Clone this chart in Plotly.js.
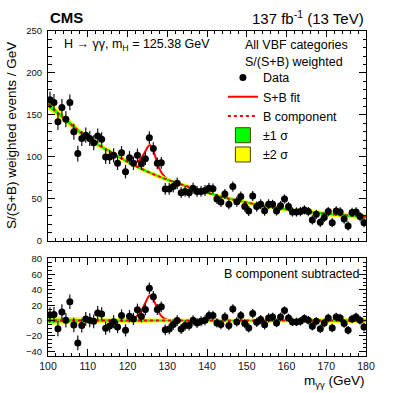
<!DOCTYPE html>
<html>
<head>
<meta charset="utf-8">
<script src="https://cdn.plot.ly/plotly-3.0.1.min.js"></script>
<style>html,body{margin:0;padding:0;background:#fff;}#chart{width:407px;height:393px;}</style>
</head>
<body>
<div id="chart"></div>
<script>
// ---- Data ----
// Bin centres 100.5 ... 179.5 GeV (1 GeV bins)
const massBins = [];
for (let i = 0; i < 80; i++) massBins.push(100.5 + i);

// S/(S+B) weighted events / GeV
const dataY = [
  168, 165, 142, 159, 145, 165, 130, 104, 122, 126,
  122, 117, 125, 121, 100, 100, 102, 92.5, 105, 82.5,
  99, 92.5, 102, 92, 98, 123, 110, 92.5, 93, 62,
  62, 64.7, 68.7, 57.5, 59, 57.5, 62.7, 59, 59, 60,
  62.7, 62.3, 50, 46.4, 56, 43.6, 64.7, 46.8, 52.8, 40.9,
  35.7, 53.6, 40.9, 43.6, 36, 43.6, 43.6, 35.7, 42, 50,
  40.9, 34.5, 34.5, 35, 36.9, 35, 25, 31.7, 22.2, 28,
  35, 21.8, 35.7, 34.5, 26, 17.9, 34, 34.5, 29, 21.8
];
// Data minus B component
const residY = [
  7.4, 7.8, -10.5, 11.3, 0.4, 24.4, -5.7, -29, -6.5, 2.2,
  0.4, -1, 10, 8.7, -10, -7, -1.4, -8.3, 6.5, -12.6,
  5.7, 2.2, 14, 5.2, 14.4, 42, 31, 14.4, 17.9, -12,
  -10.9, -5.2, 0, -10.9, -6.5, -6.5, 0.4, -3, -1, 0.4,
  6.5, 6.5, -3, -5.2, 4.8, -6.5, 15.2, -1.7, 6.5, -3.9,
  -9.6, 9.1, -2.2, 1.3, -5.5, 3.5, 4.8, -3, 4.8, 13,
  3.5, -1.7, -1.7, -1, 2.6, 0.4, -7.4, -1, -10.5, -3,
  3.5, -9.6, 4.8, 3.5, -3.9, -12.6, 2.2, 4.8, 0.4, -8.3
];
// Statistical uncertainty on each bin
const dataErr = [
  10, 10, 10, 10, 9.5, 9.5, 9.5, 9.5, 9, 9,
  9, 9, 9, 8.5, 8.5, 8.5, 8.5, 8, 8, 8,
  8, 8, 8, 7.5, 7.5, 7.5, 7.5, 7, 7, 7,
  7, 7, 7, 6.5, 6.5, 6.5, 6.5, 6.5, 6.5, 6.5,
  6.5, 6, 6, 6, 6, 6, 6, 6, 6, 6,
  6, 6, 6, 6, 6, 6, 5.5, 5.5, 5.5, 5.5,
  5.5, 5.5, 5.5, 5.5, 5.5, 5.5, 5.5, 5.5, 5.5, 5.5,
  5.5, 5.5, 5.5, 5.5, 5.5, 5.5, 5.5, 5.5, 5.5, 5.5
];

// Fit curves sampled on a mass grid
const fitX = [100, 105, 110, 115, 118, 119, 120, 121, 122, 123, 124, 125, 125.5, 126, 127, 128, 129, 130, 131, 132, 135, 140, 145, 150, 155, 160, 165, 170, 175, 180];
const bkgY = [162.5, 142, 122.5, 108, 99.5, 97, 94.3, 91.8, 89.3, 87, 84.8, 82.6, 81.6, 80.5, 78.5, 76.6, 74.8, 73, 71.3, 69.7, 65, 57.5, 51, 45.8, 41.2, 37.6, 34.8, 32.3, 30.5, 29];
const sigY = [0, 0, 0, 0, 0, 0.2, 0.6, 1.6, 4, 9, 18, 28.5, 32.5, 32, 22, 9.5, 3.5, 1.2, 0.4, 0.1, 0, 0, 0, 0, 0, 0, 0, 0, 0, 0];
const err1s = [2.8, 2.3, 1.9, 1.6, 1.5, 1.5, 1.45, 1.45, 1.4, 1.4, 1.35, 1.35, 1.35, 1.3, 1.3, 1.3, 1.25, 1.25, 1.25, 1.2, 1.2, 1.2, 1.2, 1.2, 1.25, 1.3, 1.4, 1.5, 1.6, 1.75];
const err2s = [5.6, 4.6, 3.8, 3.2, 3.0, 3.0, 2.9, 2.9, 2.8, 2.8, 2.7, 2.7, 2.7, 2.6, 2.6, 2.6, 2.5, 2.5, 2.5, 2.4, 2.4, 2.4, 2.4, 2.4, 2.5, 2.6, 2.8, 3.0, 3.2, 3.5];

// ---- Derived curves ----
const sbY = bkgY.map((b, i) => b + sigY[i]);
const zeroY = bkgY.map(b => b - b);
const up = (base, e) => base.map((b, i) => b + e[i]);
const dn = (base, e) => base.map((b, i) => b - e[i]);

const FONT = '"Liberation Sans", Arial, Helvetica, sans-serif';
const RED = '#ff0000', GREEN = '#00ff00', YELLOW = '#ffff00';

function bandTraces(base, xa, ya) {
  const common = {x: fitX, xaxis: xa, yaxis: ya, mode: 'lines', hoverinfo: 'skip', line: {width: 0, shape: 'spline'}, showlegend: false};
  return [
    Object.assign({}, common, {y: dn(base, err2s)}),
    Object.assign({}, common, {y: up(base, err2s), fill: 'tonexty', fillcolor: YELLOW}),
    Object.assign({}, common, {y: dn(base, err1s)}),
    Object.assign({}, common, {y: up(base, err1s), fill: 'tonexty', fillcolor: GREEN})
  ];
}

const traces = [];
// Top panel
traces.push({x: fitX, y: sbY, xaxis: 'x', yaxis: 'y', mode: 'lines', name: 'S+B fit', legendrank: 2,
  line: {color: RED, width: 2, shape: 'spline', smoothing: 0.8}});
traces.push(...bandTraces(bkgY, 'x', 'y'));
traces.push({x: fitX, y: bkgY, xaxis: 'x', yaxis: 'y', mode: 'lines', name: 'B component', legendrank: 3,
  line: {color: RED, width: 2, dash: 'dot', shape: 'spline'}});
traces.push({x: massBins, y: dataY, xaxis: 'x', yaxis: 'y', mode: 'markers', name: 'Data', legendrank: 1,
  marker: {color: 'black', size: 7},
  error_y: {type: 'data', array: dataErr, visible: true, width: 0, thickness: 1.2, color: '#111'}});
// Legend-only boxes for the uncertainty bands
traces.push({x: [null], y: [null], xaxis: 'x', yaxis: 'y', mode: 'markers', name: '±1 σ', legendrank: 4,
  marker: {symbol: 'square', size: 15, color: GREEN, line: {color: '#444400', width: 1}}});
traces.push({x: [null], y: [null], xaxis: 'x', yaxis: 'y', mode: 'markers', name: '±2 σ', legendrank: 5,
  marker: {symbol: 'square', size: 15, color: YELLOW, line: {color: '#444400', width: 1}}});

// Bottom panel
traces.push({x: fitX, y: sigY, xaxis: 'x2', yaxis: 'y2', mode: 'lines', showlegend: false,
  line: {color: RED, width: 2, shape: 'spline', smoothing: 0.8}});
traces.push(...bandTraces(zeroY, 'x2', 'y2'));
traces.push({x: fitX, y: zeroY, xaxis: 'x2', yaxis: 'y2', mode: 'lines', showlegend: false,
  line: {color: RED, width: 2, dash: 'dot'}});
traces.push({x: massBins, y: residY, xaxis: 'x2', yaxis: 'y2', mode: 'markers', showlegend: false,
  marker: {color: 'black', size: 7},
  error_y: {type: 'data', array: dataErr, visible: true, width: 0, thickness: 1.2, color: '#111'}});

const axisCommon = {showline: true, linecolor: 'black', linewidth: 1, mirror: 'allticks',
  ticks: 'inside', tickcolor: 'black', showgrid: false, zeroline: false,
  tickfont: {family: FONT, size: 9.5, color: '#111'}};

const layout = {
  width: 407, height: 393,
  margin: {l: 48, r: 41, t: 31, b: 37},
  paper_bgcolor: 'white', plot_bgcolor: 'white',
  font: {family: FONT, color: 'black'},
  showlegend: true,
  legend: {x: 0.55, y: 0.902, xanchor: 'left', yanchor: 'top', bgcolor: 'rgba(0,0,0,0)', traceorder: 'normal',
    font: {family: FONT, size: 12.5, color: 'black'}, itemwidth: 30, itemsizing: 'trace', tracegroupgap: 0},
  xaxis: Object.assign({}, axisCommon, {domain: [0, 1], anchor: 'y', range: [100, 180], dtick: 10, tick0: 100,
    ticklen: 6, showticklabels: false, minor: {ticks: 'inside', dtick: 2, ticklen: 3, tickcolor: 'black'}}),
  yaxis: Object.assign({}, axisCommon, {domain: [0.354, 1], anchor: 'x', range: [0, 250], dtick: 50,
    ticklen: 7, ticklabelstandoff: 3, minor: {ticks: 'inside', dtick: 10, ticklen: 3.5, tickcolor: 'black'}}),
  xaxis2: Object.assign({}, axisCommon, {domain: [0, 1], anchor: 'y2', matches: 'x', range: [100, 180], dtick: 10, tick0: 100,
    ticklen: 7, tickfont: {family: FONT, size: 10.5, color: '#111'},
    minor: {ticks: 'inside', dtick: 2, ticklen: 3.5, tickcolor: 'black'}}),
  yaxis2: Object.assign({}, axisCommon, {domain: [0, 0.3015], anchor: 'x2', range: [-46, 81.3], dtick: 20, tick0: 0,
    ticklen: 7, ticklabelstandoff: 3, minor: {ticks: 'inside', dtick: 5, ticklen: 3.5, tickcolor: 'black'}}),
  annotations: [
    {text: '<b>CMS</b>', xref: 'paper', yref: 'paper', x: 0, y: 1.043, xanchor: 'left', yanchor: 'middle', showarrow: false,
      font: {family: FONT, size: 15, color: 'black'}},
    {text: '137 fb<sup>-1</sup> (13 TeV)', xref: 'paper', yref: 'paper', x: 1, y: 1.043, xanchor: 'right', yanchor: 'middle', showarrow: false,
      font: {family: FONT, size: 15, color: 'black'}},
    {text: 'H → γγ, m<sub>H</sub> = 125.38 GeV', xref: 'paper', yref: 'paper', x: 0.044, y: 0.957, xanchor: 'left', yanchor: 'middle', showarrow: false,
      font: {family: FONT, size: 12.5, color: 'black'}},
    {text: 'All VBF categories', xref: 'paper', yref: 'paper', x: 0.613, y: 0.957, xanchor: 'left', yanchor: 'middle', showarrow: false,
      font: {family: FONT, size: 12.5, color: 'black'}},
    {text: 'S/(S+B) weighted', xref: 'paper', yref: 'paper', x: 0.613, y: 0.905, xanchor: 'left', yanchor: 'middle', showarrow: false,
      font: {family: FONT, size: 12.5, color: 'black'}},
    {text: 'B component subtracted', xref: 'paper', yref: 'paper', x: 0.547, y: 0.252, xanchor: 'left', yanchor: 'middle', showarrow: false,
      font: {family: FONT, size: 12.5, color: 'black'}},
    {text: 'S/(S+B) weighted events / GeV', xref: 'paper', yref: 'paper', x: -0.113, y: 0.677, xanchor: 'center', yanchor: 'middle',
      textangle: -90, showarrow: false, font: {family: FONT, size: 13.5, color: 'black'}},
    {text: 'm<sub>γγ</sub> (GeV)', xref: 'paper', yref: 'paper', x: 1, y: -0.077, xanchor: 'right', yanchor: 'middle', showarrow: false,
      font: {family: FONT, size: 13.5, color: 'black'}}
  ]
};

Plotly.newPlot('chart', traces, layout, {staticPlot: true, displayModeBar: false});
</script>
</body>
</html>
